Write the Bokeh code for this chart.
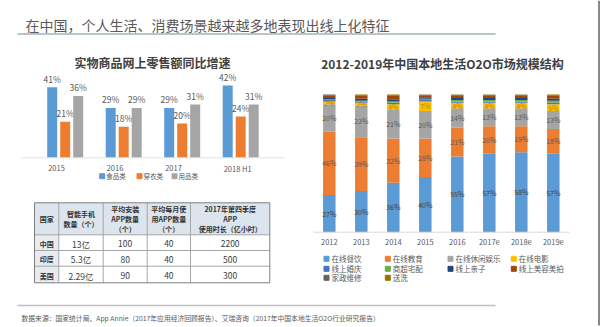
from bokeh.plotting import figure
from bokeh.models import Range1d, ColumnDataSource
from bokeh.embed import file_html
from bokeh.resources import INLINE
from bokeh.core.properties import value
import numpy as np

FONT = "Noto Sans CJK SC"

# ---------------- data ----------------
main_title = "在中国，个人生活、消费场景越来越多地表现出线上化特征"
source_note = "数据来源：国家统计局、App Annie（2017年应用经济回顾报告）、艾瑞咨询（2017年中国本地生活O2O行业研究报告）"

left_title = "实物商品网上零售额同比增速"
left_years = ["2015", "2016", "2017", "2018 H1"]
left_series = ["食品类", "穿衣类", "用品类"]
food = [41, 29, 29, 42]
clothing = [21, 18, 20, 24]
goods = [36, 29, 31, 31]
left_colors = ["#5B9BD5", "#ED7D31", "#A5A5A5"]

table_header = [["国家"], ["智能手机", "数量（个）"], ["平均安装", "APP数量", "（个）"],
                ["平均每月使", "用APP数量", "（个）"], ["2017年第四季度", "APP", "使用时长（亿小时）"]]
table_countries = ["中国", "印度", "美国"]
table_phones = ["13亿", "5.3亿", "2.29亿"]
table_install = ["100", "80", "90"]
table_monthly = ["40", "40", "40"]
table_hours = ["2200", "500", "300"]

right_title = "2012-2019年中国本地生活O2O市场规模结构"
right_years = ["2012", "2013", "2014", "2015", "2016", "2017e", "2018e", "2019e"]
o2o_names = ["在线餐饮", "在线教育", "在线休闲娱乐", "在线电影", "线上婚庆", "商超宅配",
             "线上亲子", "线上美容美拍", "家政维修", "送洗"]
dining = [27, 30, 36, 40, 55, 57, 58, 57]
education = [46, 39, 32, 28, 21, 20, 19, 18]
leisure = [20, 23, 21, 20, 14, 13, 13, 13]
movie = [2, 2, 4, 7, 4, 4, 4, 5]
wedding = [1, 1, 1, 1, 1, 1, 1, 1]
grocery = [0.5, 0.5, 1, 1, 1, 1, 1, 1.5]
parenting = [1, 1.5, 1.5, 1, 1.5, 1.5, 1.5, 1.5]
beauty = [2, 2, 2.5, 1.5, 2, 2, 2, 2]
housekeeping = [0.5, 0.5, 0.5, 0.3, 0.3, 0.3, 0.3, 0.5]
laundry = [0, 0.5, 0.5, 0.2, 0.2, 0.2, 0.2, 0.5]
o2o_colors = ["#5B9BD5", "#ED7D31", "#A5A5A5", "#FFC000", "#4472C4", "#70AD47",
              "#264478", "#9E480E", "#636363", "#997300"]

# ---------------- figure ----------------
p = figure(width=600, height=327, x_range=Range1d(0, 600), y_range=Range1d(327, 0),
           x_axis_type=None, y_axis_type=None, output_backend="svg",
           toolbar_location=None, min_border=0)
p.grid.visible = False
p.outline_line_color = None
p.background_fill_color = "white"
p.border_fill_color = "white"

# scales for the two charts (pixel layout -> data ranges)
lu, l0 = 58.5, 64.7          # left chart: px per category, px of first category
lv, lb = 1.72, 157.3         # left chart: px per %, px of baseline
ru, r0 = 32.0, 328.8
rv, rb = 1.377, 231.7
p.extra_x_ranges = {"lx": Range1d(-l0 / lu, (600 - l0) / lu),
                    "rx": Range1d(-r0 / ru, (600 - r0) / ru)}
p.extra_y_ranges = {"ly": Range1d((lb - 327) / lv, lb / lv),
                    "ry": Range1d((rb - 327) / rv, rb / rv)}

def txt(x, y, t, size, color="#595959", align="left", bold=False, **kw):
    p.text(x=x, y=y, text=t, text_font=value(FONT), text_font_size=size,
           text_color=color, text_align=align, text_baseline="middle",
           text_font_style="bold" if bold else "normal", **kw)

# header
txt([25], [24], [main_title], "14px", color="#595959")
p.line([17, 495], [33.5, 33.5], line_color="#B7C7C7", line_width=2)

# right edge border
p.line([598.5, 598.5], [0, 325], line_color="#606060", line_width=1.5)

# ---------------- left chart ----------------
txt([152], [62], [left_title], "12px", color="#404040", align="center", bold=True)
n = len(left_years)
idx = np.arange(n)
bw, off = 10 / lu, 13 / lu
for k, (vals, col) in enumerate(zip([food, clothing, goods], left_colors)):
    src = ColumnDataSource(dict(x=idx + (k - 1) * off, top=vals,
                                label=[f"{v}%" for v in vals]))
    p.vbar(x="x", top="top", bottom=0, width=bw, fill_color=col, line_color=None,
           source=src, x_range_name="lx", y_range_name="ly")
    p.text(x="x", y="top", text="label", source=src, x_range_name="lx", y_range_name="ly",
           text_font=value(FONT), text_font_size="8.5px", text_color="#595959",
           text_align="center", text_baseline="middle", y_offset=-8.5)
p.segment(x0=[-0.75], x1=[n - 0.25], y0=[0], y1=[0], line_color="#E3E3E3",
          x_range_name="lx", y_range_name="ly")
p.text(x=idx - off - bw / 2 + 1 / lu, y=[0] * n, text=left_years, x_range_name="lx", y_range_name="ly",
       text_font=value(FONT), text_font_size="7.5px", text_color="#595959",
       text_align="left", text_baseline="middle", y_offset=10.5)
# left legend
leg_x = [101.7, 139, 174]
p.scatter(x=leg_x, y=[175.7] * 3, marker="square", size=5, color=left_colors)
txt([x + 4 for x in leg_x], [175.7] * 3, left_series, "6.5px")

# ---------------- table ----------------
col_edges = [34, 58.3, 102.7, 146.7, 190, 269.3]
row_edges = [202.3, 234.3, 250, 265.7, 282.3]
p.quad(left=[col_edges[0]], right=[col_edges[-1]], top=[row_edges[0]], bottom=[row_edges[1]],
       fill_color="#DCE4EE", line_color=None)
p.quad(left=[col_edges[0]], right=[col_edges[1]], top=[row_edges[1]], bottom=[row_edges[-1]],
       fill_color="#E8ECF1", line_color=None)
for x in col_edges[1:-1]:
    p.line([x, x], [row_edges[0], row_edges[-1]], line_color="#A6A6A6", line_width=1)
for y in row_edges[1:-1]:
    p.line([col_edges[0], col_edges[-1]], [y, y], line_color="#A6A6A6", line_width=1)
p.quad(left=[col_edges[0]], right=[col_edges[-1]], top=[row_edges[0]], bottom=[row_edges[-1]],
       fill_color=None, line_color="#7F7F7F", line_width=1)
hc = (row_edges[0] + row_edges[1]) / 2
for j, lines in enumerate(table_header):
    cx = (col_edges[j] + col_edges[j + 1]) / 2
    m = len(lines)
    txt([cx] * m, [hc + (i - (m - 1) / 2) * 10 for i in range(m)], lines, "7px",
        color="#333333", align="center", bold=True)
cols = [table_countries, table_phones, table_install, table_monthly, table_hours]
for j, colvals in enumerate(cols):
    cx = (col_edges[j] + col_edges[j + 1]) / 2
    ys = [(row_edges[i + 1] + row_edges[i + 2]) / 2 + 1 for i in range(len(colvals))]
    if j == 0:
        txt([cx] * len(colvals), ys, colvals, "7px", color="#333333", align="center", bold=True)
    else:
        txt([cx] * len(colvals), ys, colvals, "8.5px", color="#404040", align="center")

# ---------------- right chart ----------------
txt([442], [62.7], [right_title], "12px", color="#404040", align="center", bold=True)
series = [dining, education, leisure, movie, wedding, grocery, parenting, beauty,
          housekeeping, laundry]
rn = len(right_years)
ridx = np.arange(rn)
data = {"x": ridx}
keys = [f"s{i}" for i in range(len(series))]
for k, s in zip(keys, series):
    data[k] = s
rsrc = ColumnDataSource(data)
p.vbar_stack(keys, x="x", width=12.5 / ru, fill_color=o2o_colors, line_color=None,
             source=rsrc, x_range_name="rx", y_range_name="ry")
arr = np.array(series, dtype=float)
cum = np.cumsum(arr, axis=0)
label_colors = ["#404040", "#595959", "#595959", "#B88A00"]
for i in range(4):
    mids = cum[i] - arr[i] / 2
    p.text(x=ridx, y=mids, text=[f"{int(v)}%" for v in series[i]],
           x_range_name="rx", y_range_name="ry", text_font=value(FONT),
           text_font_size="7px", text_color=label_colors[i], text_align="center",
           text_baseline="middle")
p.segment(x0=[-0.5], x1=[rn - 0.5], y0=[0], y1=[0], line_color="#D9D9D9",
          x_range_name="rx", y_range_name="ry")
p.text(x=ridx, y=[0] * rn, text=right_years, x_range_name="rx", y_range_name="ry",
       text_font=value(FONT), text_font_size="7.5px", text_color="#595959",
       text_align="center", text_baseline="middle", y_offset=10)
# right legend
lcx = [326, 387.3, 450, 513.3]
lry = [258.3, 268.3, 277.3]
lx_pos = [lcx[i % 4] for i in range(len(o2o_names))]
ly_pos = [lry[i // 4] for i in range(len(o2o_names))]
p.scatter(x=lx_pos, y=ly_pos, marker="square", size=5, color=o2o_colors)
txt([x + 5 for x in lx_pos], ly_pos, o2o_names, "7.5px")

# ---------------- footer ----------------
p.line([17, 495], [305, 305], line_color="#BFBFBF", line_width=1.5)
txt([21], [317.5], [source_note], "6.8px", color="#595959")

open("out.html", "w").write(file_html(p, INLINE))
